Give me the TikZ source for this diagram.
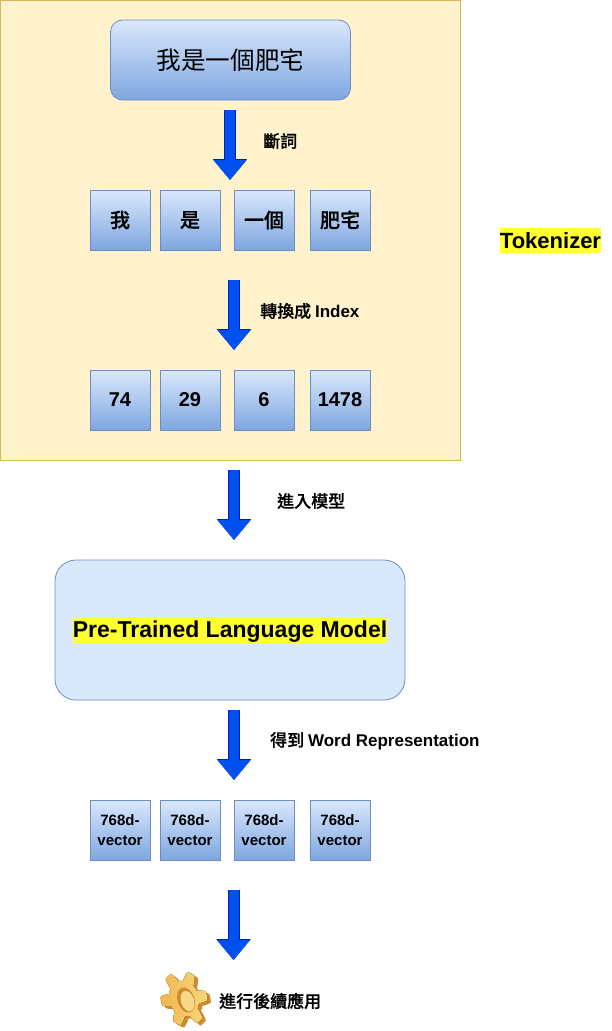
\documentclass[tikz,border=0pt]{standalone}
\usepackage{fontspec}
\setmainfont{Liberation Sans}
\newfontfamily\cjk[BoldFont={Noto Sans CJK TC Medium},BoldFeatures={FakeBold=0.7}]{Noto Sans CJK TC}
\usetikzlibrary{arrows.meta,calc}
\definecolor{bfill}{HTML}{DAE8FC}
\definecolor{bfillb}{HTML}{7EA6E0}
\definecolor{bline}{HTML}{6C8EBF}
\definecolor{yfill}{HTML}{FFF2CC}
\definecolor{yline}{HTML}{D6B656}
\definecolor{arrowin}{HTML}{0050EF}
\definecolor{arrowout}{HTML}{001DBC}
\definecolor{mark}{HTML}{FFFF33}
\definecolor{gearlight}{HTML}{F8D67A}
\definecolor{gearmid}{HTML}{F0B850}
\definecolor{geardark}{HTML}{D08A30}
\definecolor{gearhole}{HTML}{F7D98A}
\tikzset{
  x=1pt,y=-1pt,
  gradbox/.style={draw=bline,line width=.8pt,top color=bfill,bottom color=bfillb,inner sep=0pt,align=center,font=\bfseries,text=black},
  tokbox/.style={gradbox,minimum width=60pt,minimum height=60pt,font=\fontsize{20}{22}\selectfont\bfseries},
  vecbox/.style={gradbox,minimum width=60pt,minimum height=60pt,font=\fontsize{15}{20}\selectfont\bfseries},
  flow/.style={
    preaction={draw=arrowout,line width=12pt,-{Triangle[length=21pt,width=33pt]}},
    draw=arrowin,line width=10pt,-{Triangle[length=20pt,width=32pt]}},
  lab/.style={font=\fontsize{17}{18}\selectfont\bfseries,inner sep=0pt,text=black},
  hl/.style={fill=mark,inner sep=0pt,text=black,font=\bfseries},
}
\begin{document}
\begin{tikzpicture}
\useasboundingbox (0,0) rectangle (611,1031);
\node[draw=yline,fill=yfill,line width=.8pt,minimum width=460pt,minimum height=460pt,inner sep=0pt] (tk) at (230,230.5) {};
\node[gradbox,rounded corners=12pt,minimum width=240pt,minimum height=80pt,font=\fontsize{24.6}{26}\selectfont] (top) at (230.5,60) {\cjk\mdseries 我是一個肥宅};
\node[tokbox] (a1) at (120,220) {\cjk 我};
\node[tokbox] (a2) at (190,220) {\cjk 是};
\node[tokbox] (a3) at (264,220) {\cjk 一個};
\node[tokbox] (a4) at (340,220) {\cjk 肥宅};
\node[tokbox] (b1) at (120,400) {74};
\node[tokbox] (b2) at (190,400) {29};
\node[tokbox] (b3) at (264,400) {6};
\node[tokbox] (b4) at (340,400) {1478};
\node[draw=bline,fill=bfill,line width=.8pt,rounded corners=21pt,minimum width=350pt,minimum height=140pt] (model) at (230,630) {};
\node[hl,font=\fontsize{23}{24}\selectfont\bfseries,text height=19.5pt,text depth=5.5pt] (mt) at (230,630) {Pre-Trained Language Model};
\node[vecbox] (c1) at (120,830) {768d-\\vector};
\node[vecbox] (c2) at (190,830) {768d-\\vector};
\node[vecbox] (c3) at (264,830) {768d-\\vector};
\node[vecbox] (c4) at (340,830) {768d-\\vector};
\node[hl,font=\fontsize{22}{22}\selectfont\bfseries,text height=20pt,text depth=4.7pt] (tn) at (550.5,240.4) {Tokenizer};
\coordinate (s1) at (230,110); \coordinate (e1) at (230,180);
\coordinate (s2) at (234,280); \coordinate (e2) at (234,350);
\coordinate (s3) at (234,470); \coordinate (e3) at (234,540);
\coordinate (s4) at (234,710); \coordinate (e4) at (234,780);
\coordinate (s5) at (233.5,890); \coordinate (e5) at (233.5,960);
\draw[flow] (s1) -- (e1);
\draw[flow] (s2) -- (e2);
\draw[flow] (s3) -- (e3);
\draw[flow] (s4) -- (e4);
\draw[flow] (s5) -- (e5);
\node[lab,anchor=west] (l1) at (263,141) {\cjk 斷詞};
\node[lab,anchor=west] (l2) at (260,311) {\cjk 轉換成\ \rmfamily Index};
\node[lab,anchor=west] (l3) at (277,501) {\cjk 進入模型};
\node[lab,anchor=west] (l4) at (270,741) {\cjk 得到\ \rmfamily Word Representation};
\node[lab,anchor=west] (l5) at (219,1001) {\cjk 進行後續應用};
% gear
\begin{scope}[declare function={gr(\t)=23+5*max(-1,min(1,1.7*sin(6*\t+35)));}]
\fill[geardark,shift={(187.5,1001)},rotate=18] plot[variable=\t,domain=0:360,samples=181,smooth] ({.82*gr(\t)*cos(\t)},{gr(\t)*sin(\t)}) -- cycle;
\fill[left color=gearmid,right color=gearlight,shift={(184,998.5)},rotate=18] plot[variable=\t,domain=0:360,samples=181,smooth] ({.82*gr(\t)*cos(\t)},{gr(\t)*sin(\t)}) -- cycle;
\fill[geardark,rotate around={18:(186,1000)}] (186,1000) ellipse (8.5pt and 13pt);
\fill[gearhole,rotate around={18:(187.5,1001)}] (187.5,1001) ellipse (6.5pt and 10.5pt);
\end{scope}
\end{tikzpicture}
\end{document}
